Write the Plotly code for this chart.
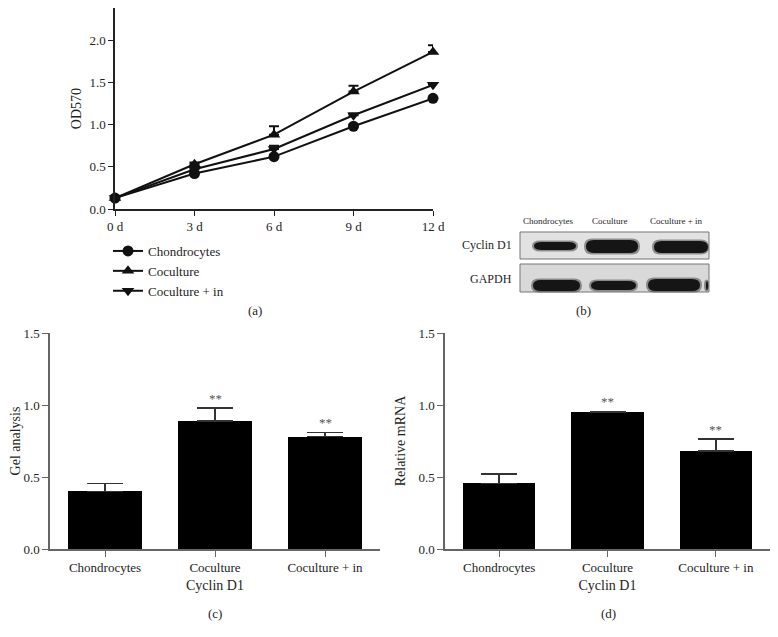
import plotly.graph_objects as go

W, H = 778, 637
OFF = 8  # the page body adds an 8px margin
FONT = "Liberation Serif, Times New Roman, serif"
TXT = "#1e1e1e"

# (a) proliferation curves
days = [0, 3, 6, 9, 12]
day_labels = ["0 d", "3 d", "6 d", "9 d", "12 d"]
chondro = [0.13, 0.42, 0.62, 0.98, 1.31]
chondro_err = [0.01, 0.01, 0.02, 0.02, 0.02]
cocult = [0.13, 0.53, 0.88, 1.39, 1.86]
cocult_err = [0.01, 0.02, 0.10, 0.07, 0.08]
cocult_in = [0.13, 0.47, 0.71, 1.11, 1.47]
cocult_in_err = [0.01, 0.01, 0.04, 0.02, 0.02]

# (c) and (d) Cyclin D1
groups = ["Chondrocytes", "Coculture", "Coculture + in"]
gel = [0.40, 0.89, 0.78]
gel_err = [0.055, 0.09, 0.03]
mrna = [0.455, 0.95, 0.68]
mrna_err = [0.065, 0.005, 0.085]
stars = ["", "**", "**"]


def px(x):
    return (x - OFF) / W


def py(y):
    return 1 - (y - OFF) / H


fig = go.Figure()

series = [
    ("Chondrocytes", chondro, chondro_err, "circle"),
    ("Coculture", cocult, cocult_err, "triangle-up"),
    ("Coculture + in", cocult_in, cocult_in_err, "triangle-down"),
]
for name, vals, err, sym in series:
    fig.add_trace(go.Scatter(
        x=days, y=vals, name=name, mode="lines+markers",
        line=dict(color="#111", width=2),
        marker=dict(symbol=sym, size=11, color="#111"),
        error_y=dict(type="data", array=err, arrayminus=[0] * len(err), symmetric=False,
                     color="#111", thickness=2, width=5),
        cliponaxis=False, xaxis="x", yaxis="y",
    ))

fig.add_trace(go.Bar(
    x=groups, y=gel, marker=dict(color="#000", line=dict(width=0)), width=0.67,
    error_y=dict(type="data", array=gel_err, arrayminus=[0, 0, 0], symmetric=False,
                 color="#333", thickness=1.5, width=18),
    showlegend=False, xaxis="x2", yaxis="y2",
))
fig.add_trace(go.Bar(
    x=groups, y=mrna, marker=dict(color="#000", line=dict(width=0)), width=0.67,
    error_y=dict(type="data", array=mrna_err, arrayminus=[0, 0, 0], symmetric=False,
                 color="#333", thickness=1.5, width=18),
    showlegend=False, xaxis="x3", yaxis="y3",
))

tickfont = dict(family=FONT, size=13, color=TXT)
titlefont = dict(family=FONT, size=14, color=TXT)

layout = dict(
    width=W, height=H, margin=dict(l=0, r=0, t=0, b=0, autoexpand=False),
    paper_bgcolor="white", plot_bgcolor="white",
    font=dict(family=FONT, color=TXT),
    bargap=0,
    xaxis=dict(domain=[px(115), px(433)], range=[0, 12], tickvals=days, ticktext=day_labels,
               showline=True, linecolor="#222", linewidth=1.5, ticks="outside", ticklen=5,
               tickcolor="#222", showgrid=False, zeroline=False, tickfont=tickfont, anchor="y",
               automargin=False),
    yaxis=dict(domain=[py(209), py(8)], range=[0, 2.38], tickvals=[0, 0.5, 1.0, 1.5, 2.0],
               tickformat=".1f", showline=True, linecolor="#222", linewidth=1.5, ticks="outside",
               ticklen=5, tickcolor="#222", showgrid=False, zeroline=False, tickfont=tickfont,
               title=dict(text="OD570", font=titlefont, standoff=5), anchor="x", automargin=False),
    legend=dict(x=px(108), y=py(236), xanchor="left", yanchor="top",
                font=dict(family=FONT, size=13, color=TXT), bgcolor="rgba(0,0,0,0)",
                tracegroupgap=0, itemwidth=30),
)
for i, (dom, title) in enumerate([((50, 380), "Gel analysis"), ((445, 770), "Relative mRNA")], start=2):
    layout[f"xaxis{i}"] = dict(
        domain=[px(dom[0]), px(dom[1])], range=[-0.5, 2.5], type="category",
        showline=True, linecolor="#666", linewidth=1.5, ticks="outside", ticklen=6,
        tickcolor="#666", showgrid=False, zeroline=False, tickfont=tickfont,
        title=dict(text="Cyclin D1", font=titlefont, standoff=6), anchor=f"y{i}", automargin=False)
    layout[f"yaxis{i}"] = dict(
        domain=[py(549), py(333)], range=[0, 1.5], tickvals=[0, 0.5, 1.0, 1.5], tickformat=".1f",
        showline=True, linecolor="#666", linewidth=1.5, ticks="outside", ticklen=6,
        tickcolor="#666", showgrid=False, zeroline=False, tickfont=tickfont,
        title=dict(text=title, font=titlefont, standoff=10), anchor=f"x{i}", automargin=False)
fig.update_layout(**layout)

# significance stars
for i, (vals, err) in enumerate([(gel, gel_err), (mrna, mrna_err)], start=2):
    for g, v, e, s in zip(groups, vals, err, stars):
        if s:
            fig.add_annotation(x=g, y=v + e, xref=f"x{i}", yref=f"y{i}", text=s, showarrow=False,
                               xanchor="center", yanchor="bottom",
                               font=dict(family=FONT, size=13, color="#555"))


def label(text, x, y, size=13, xanchor="center"):
    fig.add_annotation(x=px(x), y=py(y), xref="paper", yref="paper", text=text, showarrow=False,
                       xanchor=xanchor, yanchor="middle", font=dict(family=FONT, size=size, color=TXT))


# panel letters
for lab, x, y in [("(a)", 255, 310), ("(b)", 583, 310), ("(c)", 215, 613), ("(d)", 608, 613)]:
    label(lab, x, y)

# (b) western blot drawn with shapes
blot_boxes = [(520, 232, 709, 259, "#e2e2e2"), (520, 264, 709, 292, "#d9d9d9")]
for x0, y0, x1, y1, fill in blot_boxes:
    fig.add_shape(type="rect", xref="paper", yref="paper", x0=px(x0), x1=px(x1), y0=py(y1), y1=py(y0),
                  fillcolor=fill, line=dict(color="#777", width=1))

bands = [
    (534, 576, 242, 250), (586, 638, 240, 253), (654, 708, 241, 253),
    (533, 580, 280, 291), (591, 636, 281, 290), (648, 700, 279, 291), (706, 708, 281, 290),
]


def band_path(x0, x1, y0, y1):
    r = min(8, (x1 - x0) / 2)
    yc = (y0 + y1) / 2
    pts = lambda x, y: f"{px(x):.5f},{py(y):.5f}"
    return (f"M {pts(x0 + r, y0)} L {pts(x1 - r, y0)} Q {pts(x1, y0)} {pts(x1, yc)} "
            f"Q {pts(x1, y1)} {pts(x1 - r, y1)} L {pts(x0 + r, y1)} Q {pts(x0, y1)} {pts(x0, yc)} "
            f"Q {pts(x0, y0)} {pts(x0 + r, y0)} Z")


# soft halo then dark core for each band
for x0, x1, y0, y1 in bands:
    fig.add_shape(type="path", xref="paper", yref="paper",
                  path=band_path(x0 - 2, min(x1 + 2, 709), y0 - 1.5, y1 + 1.5),
                  fillcolor="rgba(40,40,40,0.45)", line=dict(width=0))
    fig.add_shape(type="path", xref="paper", yref="paper", path=band_path(x0, x1, y0, y1),
                  fillcolor="#151515", line=dict(width=0))

for lab, x in [("Chondrocytes", 548), ("Coculture", 610), ("Coculture + in", 676)]:
    label(lab, x, 221, size=9)
for lab, y in [("Cyclin D1", 245), ("GAPDH", 279)]:
    label(lab, 514, y, size=12, xanchor="right")

fig.write_html("out.html")
